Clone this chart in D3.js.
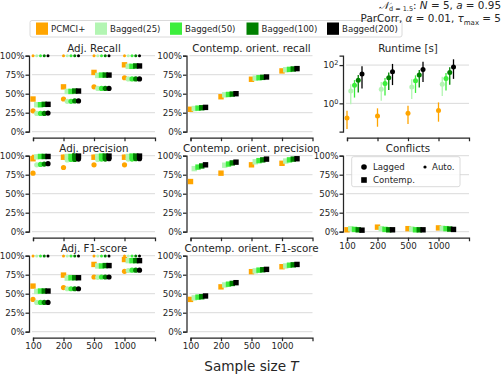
<!DOCTYPE html>
<html>
<head>
<meta charset="utf-8">
<script src="https://cdn.jsdelivr.net/npm/d3@7"></script>
<style>
  body { margin: 0; background: #fff; }
  svg text { font-family: "DejaVu Sans", sans-serif; fill: #262626; }
</style>
</head>
<body>
<div id="plot"></div>
<script>
var sampleSizes = ["100", "200", "500", "1000"];
var methods = ["PCMCI+", "Bagged(25)", "Bagged(50)", "Bagged(100)", "Bagged(200)"];
var percentTicks = [0, 25, 50, 75, 100];
var runtimeTicks = [1, 100];

// one row per method, one column per sample size (values in %)
var adjRecallAuto     = [[100,100,100,100],[100,100,100,100],[100,100,100,100],[100,100,100,100],[100,100,100,100]];
var adjRecallContemp  = [[43,59,78,88],[35.5,53,74,86],[35.5,53,74.5,86],[36,53.5,74.5,86.5],[36,53.5,74.5,86.5]];
var adjRecallLagged   = [[27.5,43,59,71],[24,40,57,69.5],[24,40,57,69.5],[24,40.5,57,69.5],[24.5,40.5,57,69.5]];

var adjPrecAuto       = [[99.5,99.5,99.5,99.5],[100,100,100,100],[100,100,100,100],[100,100,100,100],[100,100,100,100]];
var adjPrecContemp    = [[96,98,98,98],[98.5,99,99,99],[99,99,99.5,99.5],[99,99.5,99.5,99.5],[99,99.5,99.5,99.5]];
var adjPrecLagged     = [[77,84.5,88,88],[88,94.5,95,95.5],[88.5,95,95.5,95.5],[89,95,95.5,96],[89.5,95.5,96,96]];

var adjF1Auto         = [[99.5,99.5,99.5,99.5],[99.5,99.5,99.5,99.5],[99.5,99.5,99.5,99.5],[99.5,99.5,99.5,99.5],[99.5,99.5,99.5,99.5]];
var adjF1Contemp      = [[60,74.5,88.5,95],[53,70.5,86.5,93.5],[53.5,71,86.5,93.5],[53.5,71,87,93.5],[53.5,71,87,93.5]];
var adjF1Lagged       = [[42.5,58,72,79.5],[38.5,56.5,71.5,80.5],[38.5,56.5,72,81],[38.5,56.5,72,81],[38.5,56.5,72,81]];

var orientRecall      = [[29.5,46,69,80],[30.5,48.5,70.5,81.5],[31,49,71,82],[31.5,49.5,71.5,82.5],[32,50,72,83]];
var orientPrecision   = [[66,77,88,90],[83,87.5,92,93],[85,89,93.5,94.5],[86.5,90.5,94.5,95.5],[88,91.5,95.5,96]];
var orientF1          = [[42.5,59,79,85.5],[44.5,61.5,80,86.5],[45.5,62.5,81,87.5],[46,63.5,81.5,88],[47,64.5,82,88.5]];

var conflictsContemp  = [[2.5,6,4,5],[4,4,3.5,4.5],[3,3,2.5,4],[2.5,2.5,2.5,3.5],[2,2.5,2.5,3]];

// runtime in seconds: mean, lower and upper end of the error bar
var runtimeMean  = [[0.17,0.22,0.30,0.42],[4.4,5.5,7.2,10],[8.9,11,15,20],[16,22,30,41],[34,45,59,79]];
var runtimeLow   = [[0.045,0.06,0.083,0.11],[0.9,1.35,1.7,2.4],[2.0,2.6,3.5,4.7],[3.7,5,6.8,9.3],[6,9,13,19]];
var runtimeHigh  = [[0.41,0.55,0.75,1.12],[10,13,18,24.5],[16.4,21,29,39],[30,41,55,76],[88,115,150,200]];

var methodColors = ["#ffa500", "#b3f5b3", "#3cee3c", "#008000", "#000000"];

var colLeft = [33, 190.5, 347];
var rowTop = [55.7, 155.7, 255.7];
var plotW = 122, plotH = 76;

var svg = d3.select("#plot").append("svg").attr("width", 503).attr("height", 377);

var panels = [
  {title: "Adj. Recall", col: 0, row: 0, series: [["lagged", adjRecallLagged], ["contemp", adjRecallContemp], ["auto", adjRecallAuto]]},
  {title: "Adj. precision", col: 0, row: 1, series: [["lagged", adjPrecLagged], ["contemp", adjPrecContemp], ["auto", adjPrecAuto]]},
  {title: "Adj. F1-score", col: 0, row: 2, labels: true, series: [["lagged", adjF1Lagged], ["contemp", adjF1Contemp], ["auto", adjF1Auto]]},
  {title: "Contemp. orient. recall", col: 1, row: 0, series: [["contemp", orientRecall]]},
  {title: "Contemp. orient. precision", col: 1, row: 1, series: [["contemp", orientPrecision]]},
  {title: "Contemp. orient. F1-score", col: 1, row: 2, labels: true, series: [["contemp", orientF1]]},
  {title: "Runtime [s]", col: 2, row: 0, log: true},
  {title: "Conflicts", col: 2, row: 1, labels: true, series: [["contemp", conflictsContemp]]}
];

function drawPanel(p) {
  var L = colLeft[p.col], top = rowTop[p.row], bottom = top + plotH;
  var x = d3.scaleLinear().domain([0, 4]).range([L, L + plotW]);
  var y = p.log ? d3.scaleLog().domain([0.033, 309]).range([bottom, top])
                : d3.scaleLinear().domain([0, 100]).range([bottom, top]);
  var yt = p.log ? runtimeTicks : percentTicks;
  var g = svg.append("g");

  // grid
  g.selectAll("line.grid").data(yt).enter().append("line")
    .attr("x1", L - 1).attr("x2", L + plotW)
    .attr("y1", function (d) { return y(d); }).attr("y2", function (d) { return y(d); })
    .style("stroke", "#dadada").style("stroke-width", 1);

  // y axis, offset to the left like a despined seaborn axis
  var ya = g.append("g").attr("transform", "translate(" + (L - 4) + ",0)")
    .call(d3.axisLeft(y).tickValues(yt).tickSizeOuter(0).tickSize(3.5).tickPadding(1)
      .tickFormat(function (d) { return p.log ? "" : d + "%"; }));
  if (p.log) {
    ya.selectAll(".tick text").each(function (d) {
      var t = d3.select(this);
      t.text("10");
      t.append("tspan").attr("dy", "-0.45em").style("font-size", "6.5px").text(Math.round(Math.log10(d)));
    });
  }

  var xa = g.append("g").attr("transform", "translate(0," + (bottom + 6) + ")")
    .call(d3.axisBottom(x).tickValues([0, 1, 2, 3]).tickSizeOuter(0).tickSize(3.5).tickPadding(2)
      .tickFormat(function (i) { return p.labels ? sampleSizes[i] : ""; }));

  [ya, xa].forEach(function (a) {
    a.selectAll("path.domain").style("stroke", "#262626").style("stroke-width", 1.25);
    a.selectAll(".tick line").style("stroke", "#262626").style("stroke-width", 1.25);
    a.selectAll("text").style("font-size", "8.7px").style("fill", "#262626");
  });

  g.append("text").attr("x", L + plotW / 2).attr("y", top - 4)
    .attr("text-anchor", "middle").style("font-size", "10.3px").text(p.title);

  if (p.log) {
    methods.forEach(function (m, j) {
      sampleSizes.forEach(function (s, i) {
        var cx = x(i + j * 0.123);
        g.append("line").attr("x1", cx).attr("x2", cx)
          .attr("y1", y(runtimeLow[j][i])).attr("y2", y(runtimeHigh[j][i]))
          .style("stroke", methodColors[j]).style("stroke-width", 1.3);
        g.append("circle").attr("cx", cx).attr("cy", y(runtimeMean[j][i])).attr("r", 2.5)
          .style("fill", methodColors[j]);
      });
    });
    return;
  }

  methods.forEach(function (m, j) {
    p.series.forEach(function (sr) {
      var kind = sr[0], vals = sr[1][j];
      var sel = g.selectAll(null).data(vals).enter();
      if (kind == "contemp") {
        sel.append("rect")
          .attr("x", function (d, i) { return x(i + j * 0.123) - 2.7; })
          .attr("y", function (d) { return y(d) - 2.7; })
          .attr("width", 5.4).attr("height", 5.4)
          .style("fill", methodColors[j]);
      } else {
        sel.append("circle")
          .attr("cx", function (d, i) { return x(i + j * 0.123); })
          .attr("cy", function (d) { return y(d); })
          .attr("r", kind == "auto" ? 1.5 : 2.6)
          .style("fill", methodColors[j]);
      }
    });
  });
}

panels.forEach(drawPanel);

// top legend
var legendX = [36, 95, 170, 246.5, 327];
svg.append("rect").attr("x", 30).attr("y", 20.5).attr("width", 372).attr("height", 16.5).attr("rx", 2)
  .style("fill", "#fff").style("stroke", "#d0d0d0").style("stroke-width", 0.8);
methods.forEach(function (m, j) {
  svg.append("rect").attr("x", legendX[j]).attr("y", 22.5).attr("width", 12).attr("height", 12.3)
    .style("fill", methodColors[j]);
  svg.append("text").attr("x", legendX[j] + 15).attr("y", 31.8).style("font-size", "8.6px").text(m);
});

// marker legend inside Conflicts
svg.append("rect").attr("x", 351.7).attr("y", 156.7).attr("width", 108.3).attr("height", 30).attr("rx", 2)
  .style("fill", "#fff").style("fill-opacity", 0.85).style("stroke", "#d0d0d0").style("stroke-width", 0.8);
svg.append("circle").attr("cx", 364).attr("cy", 167).attr("r", 2.8).style("fill", "#000");
svg.append("text").attr("x", 373).attr("y", 170).style("font-size", "8.6px").text("Lagged");
svg.append("circle").attr("cx", 425).attr("cy", 167).attr("r", 1.6).style("fill", "#000");
svg.append("text").attr("x", 432).attr("y", 170).style("font-size", "8.6px").text("Auto.");
svg.append("rect").attr("x", 361.2).attr("y", 177.2).attr("width", 5.6).attr("height", 5.6).style("fill", "#000");
svg.append("text").attr("x", 373).attr("y", 183).style("font-size", "8.6px").text("Contemp.");

// x label
var xl = svg.append("text").attr("x", 251.5).attr("y", 370.5).attr("text-anchor", "middle").style("font-size", "13.6px");
xl.append("tspan").text("Sample size ");
xl.append("tspan").style("font-style", "italic").text("T");

// top-right annotation
var t1 = svg.append("text").attr("x", 501).attr("y", 9).attr("text-anchor", "end").style("font-size", "10.4px");
t1.append("tspan").style("font-style", "italic").text("\uD835\uDCA9");
t1.append("tspan").attr("dy", 1.6).style("font-size", "6.5px").text("d = 1.5");
t1.append("tspan").attr("dy", -1.6).text(": ");
t1.append("tspan").style("font-style", "italic").text("N");
t1.append("tspan").text(" = 5, ");
t1.append("tspan").style("font-style", "italic").text("a");
t1.append("tspan").text(" = 0.95");

var t2 = svg.append("text").attr("x", 501).attr("y", 22).attr("text-anchor", "end").style("font-size", "10.4px");
t2.append("tspan").text("ParCorr, ");
t2.append("tspan").style("font-style", "italic").text("\u03b1");
t2.append("tspan").text(" = 0.01, ");
t2.append("tspan").style("font-style", "italic").text("\u03c4");
t2.append("tspan").attr("dy", 2.5).style("font-size", "7px").text("max");
t2.append("tspan").attr("dy", -2.5).text(" = 5");
</script>
</body>
</html>
